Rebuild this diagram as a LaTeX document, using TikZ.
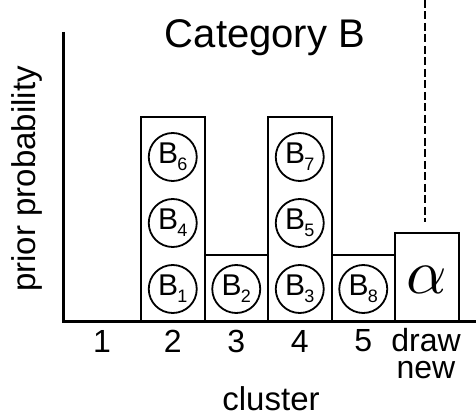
\documentclass[tikz,border=0pt]{standalone}
\usepackage{fontspec}
\setmainfont{Liberation Sans}
\begin{document}
\begin{tikzpicture}[x=1pt,y=-1pt,
  axisline/.style={line width=3pt},
  barbox/.style={draw,line width=2pt,rectangle,inner sep=0pt,outer sep=0pt,
    minimum width=63.5pt,anchor=south west},
  ball/.style={draw,circle,line width=1.8pt,minimum size=48pt,inner sep=0pt},
  axlabel/.style={font=\fontsize{32}{30}\selectfont,inner sep=0pt},
  titlelabel/.style={font=\fontsize{40}{40}\selectfont,inner sep=0pt},
  guide/.style={line width=2pt,dash pattern=on 8pt off 3.5pt}]
  \useasboundingbox (0,0) rectangle (476,419);
  % label inside a ball: B with a subscript index
  \newcommand{\ballB}[1]{\fontsize{30}{30}\selectfont B\kern-1pt\raisebox{-7pt}{\fontsize{18}{18}\selectfont #1}}

  % axes
  \coordinate (ytop) at (63,32);
  \coordinate (origin) at (63,321);
  \coordinate (xend) at (476,321);

  % bars
  \node[barbox,minimum height=204pt] (bar2) at (141,321) {};
  \node[barbox,minimum height=66pt]  (bar3) at (204.5,321) {};
  \node[barbox,minimum height=204pt] (bar4) at (268,321) {};
  \node[barbox,minimum height=66pt]  (bar5) at (331.5,321) {};
  \node[barbox,minimum height=88pt]  (barnew) at (395,321) {};

  \draw[axisline] (ytop) -- (origin) -- (xend);

  % balls
  \node[ball] (b1) at (172.75,289) {\ballB{1}};
  \node[ball] (b4) at (172.75,223) {\ballB{4}};
  \node[ball] (b6) at (172.75,157) {\ballB{6}};
  \node[ball] (b2) at (236.25,289) {\ballB{2}};
  \node[ball] (b3) at (299.75,289) {\ballB{3}};
  \node[ball] (b5) at (299.75,223) {\ballB{5}};
  \node[ball] (b7) at (299.75,157) {\ballB{7}};
  \node[ball] (b8) at (363.25,289) {\ballB{8}};

  % concentration parameter in the new-cluster bar
  \node[inner sep=0pt] (alpha) at (426.5,280) {\scalebox{6.3}{$\alpha$}};

  % dashed guide from above
  \coordinate (gtop) at (425,0);
  \coordinate (gbot) at (425,222);
  \draw[guide] (gtop) -- (gbot);

  % tick labels
  \node[axlabel] (l1) at (102,341) {1};
  \node[axlabel] (l2) at (172.75,341) {2};
  \node[axlabel] (l3) at (236.25,341) {3};
  \node[axlabel] (l4) at (299.75,341) {4};
  \node[axlabel] (l5) at (363.25,341) {5};
  \node[axlabel,anchor=north,align=center,font=\fontsize{32}{27}\selectfont] (lnew) at (426,328) {draw\\new};

  % axis titles and heading
  \node[axlabel,font=\fontsize{33}{33}\selectfont] (xlab) at (271,399) {cluster};
  \node[axlabel,rotate=90,font=\fontsize{33}{33}\selectfont] (ylab) at (27,179) {prior probability};
  \node[titlelabel] (title) at (265,38) {Category B};
\end{tikzpicture}
\end{document}
